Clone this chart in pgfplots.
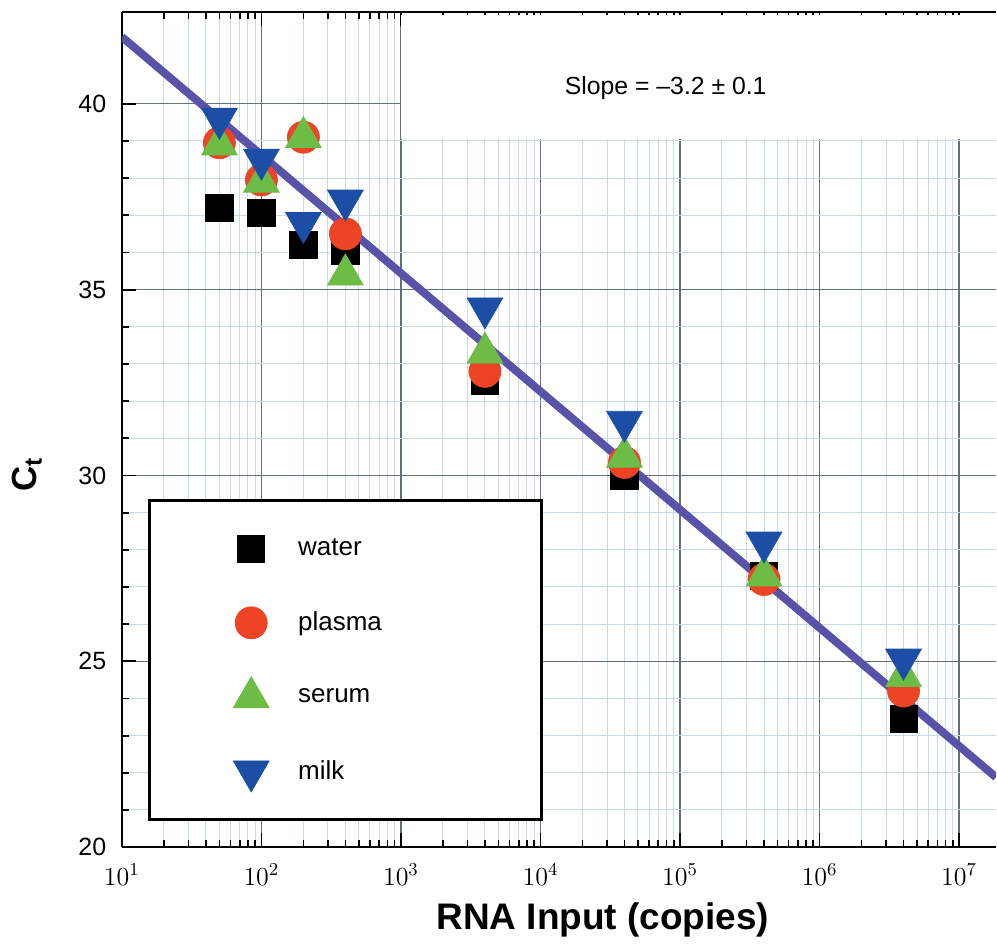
\RequirePackage{fix-cm}
\documentclass[border=0pt]{standalone}
\usepackage{fontspec}
\setmainfont{Liberation Sans}
\usepackage{pgfplots}
\pgfplotsset{compat=1.18}

\definecolor{plasmared}{RGB}{236,68,36}
\definecolor{serumgreen}{RGB}{108,188,70}
\definecolor{milkblue}{RGB}{28,78,166}
\definecolor{fitline}{RGB}{88,82,168}
\definecolor{majgrid}{RGB}{100,112,120}
\definecolor{mingrid}{RGB}{200,220,230}

\begin{document}
\begin{tikzpicture}
\begin{axis}[
  scale only axis,
  width=437.5pt, height=418pt,
  xmode=log, log basis x=10,
  xmin=10, xmax=1.84e7,
  ymin=20, ymax=42.47,
  axis x line=box, axis y line=left,
  axis line style={-, line width=1pt, black},
  xtick={1e1,1e2,1e3,1e4,1e5,1e6,1e7},
  minor xtick={2e1,3e1,4e1,5e1,6e1,7e1,8e1,9e1,
    2e2,3e2,4e2,5e2,6e2,7e2,8e2,9e2,
    2e3,3e3,4e3,5e3,6e3,7e3,8e3,9e3,
    2e4,3e4,4e4,5e4,6e4,7e4,8e4,9e4,
    2e5,3e5,4e5,5e5,6e5,7e5,8e5,9e5,
    2e6,3e6,4e6,5e6,6e6,7e6,8e6,9e6},
  ytick={20,25,...,40},
  minor y tick num=4,
  tick align=inside,
  major tick length=7pt, minor tick length=3.5pt,
  tick style={black, line width=0.9pt},
  grid=both,
  major grid style={majgrid, line width=0.6pt},
  minor grid style={mingrid, line width=0.5pt},
  xticklabel style={font=\fontsize{13}{15}\selectfont, yshift=-5pt},
  yticklabel style={/pgf/number format/assume math mode=true,
    font=\fontsize{12.5}{14}\selectfont, xshift=-4.3pt},
  xlabel={RNA Input (copies)},
  ylabel={C\textsubscript{t}},
  every axis x label/.style={at={(axis description cs:0.5503,-0.0981)}, anchor=base,
    font=\bfseries\fontsize{18.5}{20}\selectfont},
  every axis y label/.style={at={(axis description cs:-0.1086,0.446)}, rotate=90, anchor=center,
    font=\bfseries\fontsize{17.5}{20}\selectfont},
  legend style={at={(axis description cs:0.0297,0.4163)}, anchor=north west,
    draw=black, line width=1.5pt, fill=white,
    inner xsep=0pt, inner ysep=14pt, row sep=17pt, column sep=11.5pt,
    font=\fontsize{13}{15}\selectfont, nodes={inner sep=0pt}},
  legend cell align=left,
  legend image code/.code={\path[draw=none, fill=none] (-51pt,-10pt) rectangle (12pt,10pt);
    \draw[#1, line width=0.4pt, mark repeat=1] plot coordinates {(0pt,0pt)};},
]
% white panel behind the slope note
\fill[white] (axis cs:1000,39.04) rectangle (axis cs:1.84e7,42.40);
\node[font=\fontsize{12.4}{14}\selectfont] at (axis cs:7.9e4,40.43) {Slope = --3.2 ± 0.1};

\addplot[only marks, mark=square*, mark size=6.8pt, color=black, line width=0.4pt]
  coordinates {(50,37.2) (100,37.07) (200,36.2) (400,36.05) (4000,32.55) (40000,30.0) (400000,27.3) (4000000,23.44)};
\addplot[only marks, mark=*, mark size=8pt, color=plasmared, line width=0.4pt]
  coordinates {(50,38.95) (100,37.95) (200,39.1) (400,36.5) (4000,32.8) (40000,30.35) (400000,27.2) (4000000,24.2)};
\addplot[only marks, mark=triangle*, mark size=10.3pt, color=serumgreen, line width=0.4pt]
  coordinates {(50,38.9) (100,37.9) (200,39.1) (400,35.4) (4000,33.3) (40000,30.5) (400000,27.3) (4000000,24.6)};
\addplot[only marks, mark=triangle*, mark size=10.3pt, color=milkblue, line width=0.4pt, mark options={rotate=180}]
  coordinates {(50,39.6) (100,38.5) (200,36.8) (400,37.4) (4000,34.5) (40000,31.45) (400000,28.2) (4000000,25.05)};
% fitted line
\addplot[forget plot, no marks, fitline, line width=4pt]
  coordinates {(10,41.8) (1.84e7,21.88)};
\legend{\makebox[122pt][l]{water}, \makebox[122pt][l]{plasma}, \makebox[122pt][l]{serum}, \makebox[122pt][l]{milk}}
\end{axis}
\path (current axis.south west) ++(-61pt,-45.5pt);
\path (current axis.north east) ++(0pt,6pt);
\end{tikzpicture}
\end{document}
